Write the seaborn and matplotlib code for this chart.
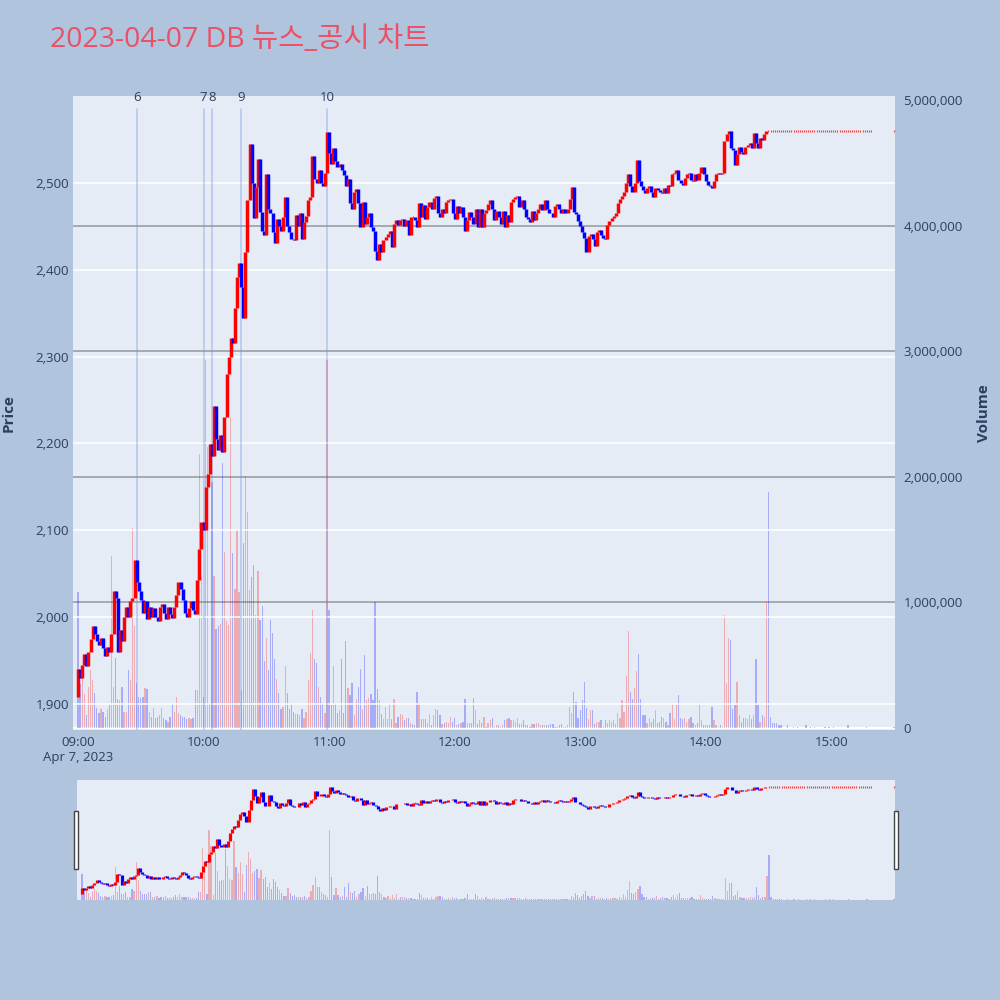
import numpy as np
import pandas as pd
import seaborn as sns
import matplotlib.pyplot as plt
from matplotlib.patches import Rectangle
from matplotlib.ticker import FuncFormatter

sns.set_theme(style="white")
plt.rcParams['font.family'] = ['Open Sans', 'Noto Sans CJK KR', 'DejaVu Sans']

# ---- data ----
title = "2023-04-07 DB 뉴스_공시 차트"

first_open = 1908

# close per minute, 09:00 .. 14:32
close_main = [
    1940, 1930, 1945, 1958, 1944, 1960, 1975, 1990, 1980, 1972,  # 09:00
    1968, 1976, 1964, 1955, 1966, 1960, 1980, 2030, 2022, 1960,  # 09:10
    1985, 1972, 2000, 2012, 2000, 2018, 2022, 2066, 2040, 2030,  # 09:20
    2020, 2005, 2018, 1998, 2012, 2000, 2010, 2000, 1996, 2012,  # 09:30
    2015, 2005, 1998, 2012, 2004, 1999, 2012, 2025, 2040, 2032,  # 09:40
    2020, 2005, 2000, 2010, 2018, 2008, 2004, 2043, 2078, 2110,  # 09:50
    2100, 2150, 2165, 2199, 2185, 2243, 2205, 2192, 2210, 2190,  # 10:00
    2230, 2280, 2300, 2322, 2316, 2356, 2392, 2408, 2380, 2345,  # 10:10
    2420, 2480, 2545, 2500, 2460, 2495, 2528, 2467, 2445, 2440,  # 10:20
    2510, 2470, 2465, 2443, 2431, 2458, 2450, 2445, 2461, 2484,  # 10:30
    2450, 2443, 2436, 2434, 2463, 2450, 2466, 2436, 2455, 2462,  # 10:40
    2480, 2484, 2531, 2505, 2500, 2515, 2500, 2497, 2512, 2559,  # 10:50
    2535, 2522, 2540, 2525, 2518, 2522, 2515, 2509, 2496, 2505,  # 11:00
    2477, 2470, 2490, 2493, 2477, 2449, 2478, 2453, 2461, 2465,  # 11:10
    2449, 2445, 2422, 2411, 2430, 2420, 2434, 2438, 2441, 2445,  # 11:20
    2426, 2453, 2457, 2452, 2457, 2459, 2451, 2457, 2440, 2461,  # 11:30
    2461, 2457, 2449, 2477, 2461, 2475, 2459, 2472, 2478, 2470,  # 11:40
    2483, 2485, 2465, 2461, 2470, 2465, 2478, 2480, 2482, 2465,  # 11:50
    2459, 2474, 2465, 2472, 2461, 2445, 2457, 2467, 2461, 2453,  # 12:00
    2470, 2449, 2470, 2449, 2465, 2469, 2476, 2480, 2470, 2457,  # 12:10
    2468, 2461, 2453, 2468, 2449, 2463, 2455, 2478, 2482, 2484,  # 12:20
    2485, 2472, 2480, 2470, 2461, 2459, 2455, 2468, 2457, 2465,  # 12:30
    2470, 2476, 2469, 2480, 2470, 2466, 2465, 2461, 2473, 2476,  # 12:40
    2470, 2465, 2470, 2465, 2470, 2482, 2495, 2467, 2464, 2456,  # 12:50
    2450, 2444, 2437, 2421, 2439, 2441, 2435, 2427, 2444, 2446,  # 13:00
    2440, 2437, 2436, 2452, 2456, 2460, 2462, 2465, 2477, 2481,  # 13:10
    2485, 2490, 2500, 2510, 2496, 2490, 2500, 2527, 2502, 2497,  # 13:20
    2492, 2488, 2494, 2496, 2490, 2484, 2494, 2492, 2490, 2488,  # 13:30
    2494, 2488, 2498, 2496, 2510, 2512, 2515, 2504, 2500, 2498,  # 13:40
    2506, 2510, 2512, 2504, 2502, 2510, 2504, 2512, 2519, 2510,  # 13:50
    2502, 2498, 2497, 2494, 2502, 2510, 2512, 2510, 2512, 2548,  # 14:00
    2556, 2560, 2540, 2538, 2521, 2533, 2542, 2536, 2533, 2542,  # 14:10
    2544, 2546, 2540, 2558, 2546, 2540, 2552, 2550, 2556, 2560,  # 14:20
    2560, 2560, 2560,                                            # 14:30
]
# no price change 14:33 .. 15:19, then the 15:30 close
close_flat = [2560] * 47
close_1530 = 2560

# volume per minute in millions, 09:00 .. 15:19, then 15:30
volume_m = [
    1.08, 0.35, 0.40, 0.27, 0.10, 0.33, 0.46, 0.38, 0.28, 0.16,
    0.12, 0.15, 0.13, 0.09, 0.15, 0.19, 1.37, 0.33, 0.56, 0.23,
    0.22, 0.33, 0.13, 0.13, 0.46, 0.38, 1.59, 0.81, 0.36, 0.25,
    0.24, 0.25, 0.32, 0.31, 0.13, 0.09, 0.16, 0.08, 0.09, 0.10,
    0.16, 0.08, 0.06, 0.05, 0.09, 0.19, 0.13, 0.25, 0.12, 0.10,
    0.09, 0.09, 0.07, 0.08, 0.07, 0.08, 0.30, 0.30, 2.18, 1.20,
    0.25, 2.93, 2.24, 0.20, 1.96, 1.21, 0.79, 0.81, 0.83, 2.11,
    1.40, 0.85, 0.82, 2.48, 1.39, 1.11, 1.58, 1.08, 0.30, 1.47,
    2.01, 1.72, 1.10, 1.20, 1.30, 0.90, 1.25, 0.86, 0.97, 0.53,
    0.72, 0.46, 0.86, 0.76, 0.55, 0.39, 0.28, 0.15, 0.17, 0.49,
    0.28, 0.15, 0.20, 0.13, 0.11, 0.11, 0.10, 0.15, 0.08, 0.13,
    0.38, 0.60, 0.94, 0.55, 0.52, 0.33, 0.25, 0.20, 0.12, 2.93,
    0.94, 0.18, 0.49, 0.20, 0.12, 0.14, 0.55, 0.12, 0.69, 0.32,
    0.26, 0.36, 0.10, 0.23, 0.33, 0.47, 0.15, 0.58, 0.22, 0.24,
    0.27, 0.22, 1.00, 0.31, 0.22, 0.11, 0.07, 0.17, 0.07, 0.19,
    0.07, 0.23, 0.04, 0.09, 0.11, 0.10, 0.06, 0.08, 0.08, 0.04,
    0.03, 0.02, 0.29, 0.20, 0.07, 0.07, 0.07, 0.04, 0.11, 0.02,
    0.10, 0.15, 0.14, 0.10, 0.03, 0.04, 0.05, 0.04, 0.09, 0.05,
    0.08, 0.02, 0.03, 0.04, 0.05, 0.23, 0.04, 0.04, 0.04, 0.24,
    0.14, 0.03, 0.06, 0.04, 0.09, 0.01, 0.04, 0.06, 0.08, 0.01,
    0.02, 0.02, 0.01, 0.02, 0.06, 0.07, 0.08, 0.06, 0.06, 0.05,
    0.08, 0.03, 0.03, 0.06, 0.02, 0.02, 0.01, 0.03, 0.03, 0.04,
    0.04, 0.02, 0.02, 0.02, 0.02, 0.02, 0.03, 0.03, 0.01, 0.01,
    0.02, 0.03, 0.01, 0.01, 0.02, 0.17, 0.12, 0.29, 0.21, 0.08,
    0.14, 0.22, 0.37, 0.16, 0.07, 0.14, 0.14, 0.03, 0.05, 0.05,
    0.06, 0.01, 0.06, 0.04, 0.06, 0.05, 0.06, 0.03, 0.12, 0.08,
    0.22, 0.13, 0.41, 0.77, 0.29, 0.23, 0.32, 0.45, 0.59, 0.23,
    0.10, 0.10, 0.04, 0.08, 0.05, 0.07, 0.14, 0.04, 0.05, 0.09,
    0.08, 0.05, 0.02, 0.12, 0.18, 0.07, 0.18, 0.26, 0.08, 0.07,
    0.08, 0.05, 0.07, 0.09, 0.04, 0.02, 0.04, 0.20, 0.06, 0.02,
    0.02, 0.02, 0.02, 0.17, 0.06, 0.02, 0.01, 0.02, 0.01, 0.90,
    0.36, 0.72, 0.70, 0.15, 0.18, 0.37, 0.10, 0.05, 0.08, 0.08,
    0.07, 0.10, 0.07, 0.10, 0.55, 0.18, 0.05, 0.10, 0.09, 1.00,
    1.88, 0.09, 0.04, 0.04, 0.04, 0.02, 0.02, 0.00, 0.00, 0.02,
    0.00, 0.00, 0.01, 0.00, 0.01, 0.00, 0.00, 0.00, 0.02, 0.00,
    0.01, 0.00, 0.01, 0.00, 0.00, 0.00, 0.00, 0.01, 0.00, 0.01,
    0.00, 0.01, 0.00, 0.00, 0.00, 0.00, 0.00, 0.00, 0.02, 0.00,
    0.00, 0.00, 0.00, 0.00, 0.00, 0.00, 0.00, 0.01, 0.00, 0.00,
    0.01,
]

news_minutes = [28, 60, 64, 78, 119]
news_labels = ["6", "7", "8", "9", "10"]

tick_minutes = [0, 60, 120, 180, 240, 300, 360]
tick_labels = ["09:00\nApr 7, 2023", "10:00", "11:00", "12:00", "13:00", "14:00", "15:00"]

price_ticks = [1900, 2000, 2100, 2200, 2300, 2400, 2500]
volume_ticks = [0, 1e6, 2e6, 3e6, 4e6, 5e6]

# ---- build frame ----
minutes = list(range(380)) + [390]
closes = close_main + close_flat + [close_1530]
opens = [first_open] + closes[:-1]

df = pd.DataFrame({
    "minute": minutes,
    "open": opens,
    "close": closes,
    "volume": np.array(volume_m) * 1e6,
})
df["up"] = df["close"] >= df["open"]
df["vol_up"] = df["close"] > df["close"].shift(1)

RED = "#ff0000"
BLUE = "#0000ff"
TXT = "#2a3f5f"
BG = "#B0C4DE"
PLOT_BG = "#E5ECF6"
XLIM = (-2.4, 390.5)
PLIM = (1870, 2600.2)
VLIM = (-0.016e6, 5.032e6)


def draw(axv, axp, lw, dot_s):
    vcol = np.where(df["vol_up"], RED, BLUE)
    axv.bar(df["minute"], df["volume"], width=0.6, color=vcol, alpha=0.27,
            linewidth=0, zorder=2)
    body = df[df["open"] != df["close"]]
    axp.vlines(body["minute"], body["open"], body["close"],
               colors=np.where(body["up"], RED, BLUE), lw=lw, zorder=3)
    doji = df[df["open"] == df["close"]]
    sns.scatterplot(data=doji, x="minute", y="close", marker="|", color=RED,
                    s=dot_s, linewidth=0.8, alpha=0.75, ax=axp, zorder=3, legend=False)
    axv.set_xlim(*XLIM)
    axv.set_ylim(*VLIM)
    axp.set_ylim(*PLIM)
    for a in (axv, axp):
        for s in a.spines.values():
            s.set_visible(False)


fig = plt.figure(figsize=(10, 10), dpi=100, facecolor=BG)

# main chart: volume axes underneath, price axes on top
axv = fig.add_axes([0.073, 0.27, 0.822, 0.634], facecolor=PLOT_BG)
axp = axv.twinx()
draw(axv, axp, 2.5, 4)

for v in volume_ticks[1:-1]:
    axv.axhline(v, color="#8c8c8c", lw=1.3, alpha=0.75, zorder=1)
axv.axhline(0, color="white", lw=1.5, zorder=1)
for p in price_ticks:
    axp.axhline(p, color="white", lw=1.1, zorder=0)

for m, lab in zip(news_minutes, news_labels):
    axp.axvline(m, ymin=0, ymax=0.979, color="#6f8ce6", alpha=0.4, lw=1.2, zorder=1)
    axp.text(m, 0.998, lab, transform=axp.get_xaxis_transform(), ha="center",
             va="center", fontsize=9.5, color=TXT)

axv.yaxis.tick_right()
axv.set_yticks(volume_ticks)
axv.yaxis.set_major_formatter(FuncFormatter(lambda v, _: f"{v:,.0f}"))
axv.tick_params(axis="y", length=0, pad=6, labelsize=9.5, labelcolor=TXT)
axv.set_xticks(tick_minutes)
axv.set_xticklabels(tick_labels)
axv.tick_params(axis="x", length=0, pad=4, labelsize=9.5, labelcolor=TXT)

axp.yaxis.tick_left()
axp.set_yticks(price_ticks)
axp.yaxis.set_major_formatter(FuncFormatter(lambda v, _: f"{v:,.0f}"))
axp.tick_params(axis="y", length=0, pad=3, labelsize=9.5, labelcolor=TXT)
axp.set_xlabel("")
axp.set_ylabel("")

fig.text(0.009, 0.587, "Price", rotation=90, ha="center", va="center",
         fontsize=11, fontweight="bold", color=TXT)
fig.text(0.984, 0.587, "Volume", rotation=90, ha="center", va="center",
         fontsize=11, fontweight="bold", color=TXT)

# range slider
axsv = fig.add_axes([0.077, 0.10, 0.818, 0.12], facecolor=PLOT_BG)
axsp = axsv.twinx()
draw(axsv, axsp, 2.3, 4)
for a in (axsv, axsp):
    a.set_xticks([])
    a.set_yticks([])
    a.set_xlabel("")
    a.set_ylabel("")

for hx in (0.074, 0.894):
    fig.add_artist(Rectangle((hx, 0.131), 0.004, 0.058, transform=fig.transFigure,
                             facecolor="white", edgecolor="#444444", lw=1))

fig.text(0.05, 0.96, title, ha="left", va="center", fontsize=20.5, color="#EB5066")

fig.savefig("out.png", dpi=100, facecolor=fig.get_facecolor())
